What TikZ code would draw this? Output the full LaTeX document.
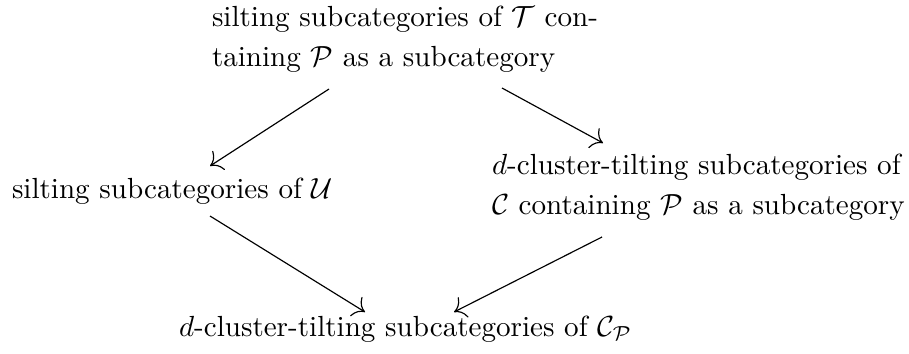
\documentclass[tikz,border=0pt]{standalone}
\usepackage{amsmath}
\usetikzlibrary{arrows.meta}
\begin{document}
\begin{tikzpicture}[x=0.3436pt,y=-0.3436pt,
  lbl/.style={inner sep=0pt,outer sep=0pt,anchor=base west,align=left,
    font=\fontsize{10}{13.6}\selectfont},
  arr/.style={-{To[scale=1.5]},line width=0.4pt}]
\useasboundingbox (0,0) rectangle (909,353);
\node[lbl] (top) at (212,66) {silting subcategories of $\mathcal{T}$ con-\\taining $\mathcal{P}$ as a subcategory};
\node[lbl] (left) at (12,198) {silting subcategories of $\mathcal{U}$};
\node[lbl] (right) at (492,214) {$d$-cluster-tilting subcategories of\\$\mathcal{C}$ containing $\mathcal{P}$ as a subcategory};
\node[lbl] (bot) at (179,336) {$d$-cluster-tilting subcategories of $\mathcal{C}_{\mathcal{P}}$};
\draw[arr] ([shift={(117,23)}]top.base west) -- ([shift={(198,-32)}]left.base west);
\draw[arr] ([shift={(290,22)}]top.base west) -- ([shift={(111,-71)}]right.base west);
\draw[arr] ([shift={(198,18)}]left.base west) -- ([shift={(186,-24)}]bot.base west);
\draw[arr] ([shift={(110,23)}]right.base west) -- ([shift={(275,-24)}]bot.base west);
\end{tikzpicture}
\end{document}
